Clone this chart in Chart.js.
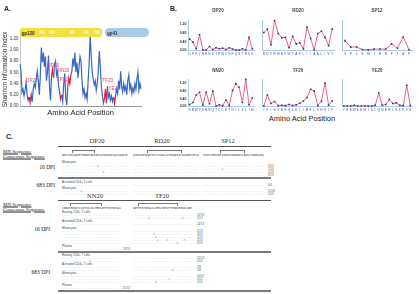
<!DOCTYPE html>
<html>
<head>
<meta charset="utf-8">
<script src="https://cdn.jsdelivr.net/npm/chart.js@4.4.0/dist/chart.umd.min.js"></script>
<style>
html, body { margin: 0; padding: 0; background: #fff; }
#fig { position: relative; width: 419px; height: 294px; overflow: hidden; font-family: 'Liberation Sans', Arial, sans-serif; }
#fig canvas { position: absolute; }
.t { position: absolute; white-space: pre; line-height: 1; }
.big { font: bold 7px 'Liberation Sans', Arial, sans-serif; color: #222; }
.axt { font-size: 7.5px; color: #222; }
.gp { font: bold 4.5px 'Liberation Sans', Arial, sans-serif; color: #333; }
.vr { font-size: 3.2px; color: #fff; background: #f7ec8c; padding: 0.4px 1px; }
.hd { font-family: 'Liberation Serif', serif; font-size: 6.5px; color: #333; }
.mn { font-family: 'Liberation Serif', serif; font-size: 5px; color: #222; text-decoration: underline; }
.dpi { font-family: 'Liberation Serif', serif; font-size: 5.5px; color: #222; }
.lab { font-size: 3px; color: #444; }
.seq { font-family: 'DejaVu Sans Mono', monospace; font-size: 2.8px; color: #8c8c8c; }
.cons { font-family: 'DejaVu Sans Mono', monospace; font-size: 2.8px; color: #333; }
.cnt { font-size: 2.8px; color: #555; }
.hl { position: absolute; }
.br { position: absolute; border: 0.5px solid #777; border-bottom: none; height: 1.5px; }
</style>
</head>
<body>
<div id="fig">
  <canvas id="cA" width="144" height="98" style="left:0;top:20px"></canvas>
  <canvas id="b1" width="80" height="52" style="left:178px;top:6px"></canvas>
  <canvas id="b2" width="80" height="52" style="left:258px;top:6px"></canvas>
  <canvas id="b3" width="78" height="52" style="left:338px;top:6px"></canvas>
  <canvas id="b4" width="80" height="48" style="left:178px;top:66px"></canvas>
  <canvas id="b5" width="80" height="48" style="left:258px;top:66px"></canvas>
  <canvas id="b6" width="78" height="48" style="left:338px;top:66px"></canvas>
</div>
<script>
// ---- panel A: Shannon entropy along env ----
const shannonIndex = [
  0.75, 0.62, 0.25, 0.30, 0.18, 0.28, 0.42, 0.20, 0.10, 0.16,
  0.06, 0.20, 0.08, 0.30, 0.40, 0.33, 0.48, 0.62, 0.45, 0.20,
  0.55, 1.04, 0.78, 0.95, 0.70, 0.88, 0.45, 0.60, 0.90, 0.35,
  0.10, 0.52, 0.65, 0.50, 0.75, 0.80, 0.55, 0.62, 0.35, 0.25,
  0.12, 0.20, 0.08, 0.40, 0.58, 0.15, 0.02, 0.35, 0.50, 0.40,
  0.55, 0.62, 0.85, 0.70, 0.95, 0.60, 0.78, 0.50, 0.68, 0.88,
  0.80, 0.45, 0.22, 0.30, 0.15, 0.22, 0.12, 0.45, 0.75, 1.27,
  0.90, 0.60, 0.48, 0.38, 0.45, 0.28, 0.40, 0.62, 0.98, 0.70,
  0.35, 0.20, 0.05, 0.12, 0.30, 0.05, 0.35, 0.15, 0.22, 0.10,
  0.18, 0.08, 0.16, 0.04, 0.20, 0.30, 0.22, 0.45, 0.30, 0.62,
  0.35, 0.25, 0.40, 0.28, 0.35, 0.20, 0.45, 0.55, 0.30, 0.38,
  0.22, 0.32, 0.25, 0.40, 0.30, 0.48, 0.60, 0.28, 0.40, 0.30
];
const shannonTicks = [0, 0.2, 0.4, 0.6, 0.8, 1.0, 1.2];
const peptideNames = ['DP20', 'RD20', 'SP12', 'NN20', 'TF20', 'YE20'];
const peptideStart = [9, 31, 39, 47, 83, 92];
const peptideEnd = [12, 33, 41, 50, 86, 94];
// where each peptide name is written (position index, entropy level)
const labelIndex = [6, 27, 36, 37, 81, 87];
const labelLevel = [0.45, 0.72, 0.47, 0.63, 0.45, 0.30];

// ---- panel B: per-residue entropy of each peptide ----
const peptideTicks = [0, 0.2, 0.4, 0.6, 0.8, 1.0, 1.2, 1.4];
const dp20Residues = 'DPEYNHNDTRWCNPQGTRDK'.split('');
const dp20Entropy = [0.52, 0.38, 0.08, 0.72, 0.02, 0.02, 0.18, 0.04, 0.12, 0.08, 0.10, 0.04, 0.12, 0.06, 0.02, 0.02, 0.08, 0.02, 0.60, 0.06];
const rd20Residues = 'RDYRMNKWYAFLIIAALIVT'.split('');
const rd20Entropy = [0.82, 0.98, 0.25, 1.38, 0.78, 0.58, 0.60, 0.12, 0.65, 0.30, 0.35, 0.06, 1.08, 0.55, 0.02, 0.78, 0.88, 0.60, 0.22, 0.98];
const sp12Residues = 'SPLEMIRNFTAP'.split('');
const sp12Entropy = [0.45, 0.15, 0.16, 0.04, 0.03, 0.06, 0.06, 0.06, 0.30, 0.10, 0.62, 0.02];
const nn20Residues = 'NNWYSRNQTCCKTNILSLIM'.split('');
const nn20Entropy = [0.10, 0.20, 0.58, 0.72, 0.06, 0.72, 0.14, 0.78, 0.02, 0.08, 0.04, 0.32, 0.04, 0.82, 1.15, 0.98, 0.20, 1.38, 0.08, 0.44];
const tf20Residues = 'TFISYNEQLKLIMELSHSIF'.split('');
const tf20Entropy = [0.02, 0.58, 0.15, 0.25, 0.04, 0.06, 0.04, 0.10, 0.05, 0.08, 0.16, 0.28, 0.45, 0.88, 0.78, 0.04, 0.26, 1.20, 0.06, 0.28];
const ye20Residues = 'YEEWKEMIDLQNERLSKFVG'.split('');
const ye20Entropy = [0.02, 0.02, 0.02, 0.06, 0.02, 0.02, 0.02, 0.02, 0.02, 0.06, 0.68, 0.06, 0.10, 0.35, 0.15, 0.18, 0.06, 0.04, 1.08, 0.04];

const SANS = "'Liberation Sans', Arial, sans-serif";
const BLUE = '#3568c8';
const RED = '#e8183c';
Chart.defaults.font.family = SANS;

function peptideAt(i) {
  for (let k = 0; k < peptideStart.length; k++) {
    if (i >= peptideStart[k] && i <= peptideEnd[k]) return k;
  }
  return -1;
}

const peptideLabels = {
  id: 'peptideLabels',
  afterDatasetsDraw(chart) {
    const {ctx, scales: {x, y}} = chart;
    ctx.save();
    ctx.fillStyle = '#e33d64';
    ctx.font = '4.6px ' + SANS;
    ctx.textBaseline = 'middle';
    peptideNames.forEach((name, k) => {
      ctx.fillText(name, x.getPixelForValue(labelIndex[k]), y.getPixelForValue(labelLevel[k]));
    });
    ctx.restore();
  }
};

new Chart(document.getElementById('cA'), {
  type: 'line',
  data: {
    labels: shannonIndex.map((_, i) => i + 1),
    datasets: [{
      data: shannonIndex,
      borderColor: BLUE,
      borderWidth: 1.2,
      pointRadius: 0,
      tension: 0,
      segment: {
        borderColor: c => {
          const k = peptideAt(c.p0DataIndex);
          return (k >= 0 && k === peptideAt(c.p1DataIndex)) ? RED : undefined;
        }
      }
    }]
  },
  options: {
    responsive: false,
    animation: false,
    events: [],
    layout: { padding: { top: 13, right: 3, bottom: 1, left: 1 } },
    plugins: { legend: { display: false }, tooltip: { enabled: false } },
    scales: {
      x: {
        offset: false,
        grid: { display: false, drawTicks: false },
        border: { color: '#9a9a9a' },
        ticks: { display: false },
        title: { display: true, text: 'Amino Acid Position', color: '#222', font: { size: 7.5 }, padding: { top: 2, bottom: 0 } }
      },
      y: {
        min: 0, max: 1.3,
        afterBuildTicks: s => { s.ticks = shannonTicks.map(v => ({ value: v })); },
        afterFit: s => { s.width = 19; },
        grid: { display: false, drawTicks: false },
        border: { color: '#c8c8c8' },
        ticks: { color: '#333', padding: 1.5, font: { size: 4.5 }, callback: v => v.toFixed(2) },
        title: { display: true, text: 'Shannon Information Index', color: '#222', font: { size: 6.3 }, padding: { top: 0, bottom: 1 } }
      }
    }
  },
  plugins: [peptideLabels]
});

function peptideChart(id, title, residues, entropy, withAxis, titlePad) {
  return new Chart(document.getElementById(id), {
    type: 'line',
    data: {
      labels: residues,
      datasets: [{
        data: entropy,
        borderColor: '#f0608a',
        borderWidth: 1,
        pointStyle: 'rect',
        pointRadius: 1.1,
        pointBackgroundColor: '#26338a',
        pointBorderWidth: 0,
        tension: 0,
        clip: 3
      }]
    },
    options: {
      responsive: false,
      animation: false,
      events: [],
      layout: { padding: 0 },
      plugins: {
        legend: { display: false },
        tooltip: { enabled: false },
        title: { display: true, text: title, color: '#444', font: { size: 4.5, weight: 'bold' }, padding: titlePad }
      },
      scales: {
        x: {
          offset: true,
          grid: { display: false, drawTicks: false },
          border: { color: '#a9c9ea', dash: [1.5, 1] },
          ticks: { autoSkip: false, maxRotation: 0, minRotation: 0, padding: 2, color: '#3550a8', font: { size: 3 } }
        },
        y: {
          min: 0, max: 1.4,
          afterBuildTicks: s => { s.ticks = peptideTicks.map(v => ({ value: v })); },
          afterFit: s => { s.width = withAxis ? 10 : 0; },
          grid: { display: false, drawTicks: false },
          border: { color: '#a9c9ea' },
          ticks: { display: withAxis, padding: 1.5, color: '#333', font: { size: 3.5, weight: 'bold' }, callback: v => v.toFixed(2) }
        }
      }
    }
  });
}

const padTop = { top: 2.3, bottom: 6.3 };
const padBottom = { top: 2.3, bottom: 5.3 };
peptideChart('b1', 'DP20', dp20Residues, dp20Entropy, true, padTop);
peptideChart('b2', 'RD20', rd20Residues, rd20Entropy, false, padTop);
peptideChart('b3', 'SP12', sp12Residues, sp12Entropy, false, padTop);
peptideChart('b4', 'NN20', nn20Residues, nn20Entropy, true, padBottom);
peptideChart('b5', 'TF20', tf20Residues, tf20Entropy, false, padBottom);
peptideChart('b6', 'YE20', ye20Residues, ye20Entropy, false, padBottom);

// ---- text, bars and the alignment of panel C ----
const fig = document.getElementById('fig');
function put(x, y, text, cls, align) {
  const d = document.createElement('div');
  d.className = 't ' + cls;
  d.textContent = text;
  d.style.left = x + 'px';
  d.style.top = y + 'px';
  const tx = align === 'c' ? '-50%' : align === 'r' ? '-100%' : '0';
  d.style.transform = 'translate(' + tx + ',-50%)';
  fig.appendChild(d);
  return d;
}
function hline(x0, x1, y, th, color) {
  const d = document.createElement('div');
  d.className = 'hl';
  Object.assign(d.style, { left: x0 + 'px', top: (y - th / 2) + 'px', width: (x1 - x0) + 'px', height: th + 'px', background: color });
  fig.appendChild(d);
}
function bracket(x0, x1, y) {
  const d = document.createElement('div');
  d.className = 'br';
  Object.assign(d.style, { left: x0 + 'px', top: y + 'px', width: (x1 - x0) + 'px' });
  fig.appendChild(d);
}
const CH = 2.8 * 0.602;
function seqRow(y, segs, marks, count, countX, cls, letters) {
  segs.forEach(([x0, x1], s) => {
    const n = Math.floor((x1 - x0) / CH);
    let chars = letters ? letters[s].slice(0, n).padEnd(n, '.').split('') : '.'.repeat(n).split('');
    marks.forEach(([mx, ch]) => { if (mx >= x0 && mx < x1) chars[Math.round((mx - x0) / CH)] = ch; });
    put(x0, y, chars.join(''), cls || 'seq');
  });
  if (count) put(countX, y, count, 'cnt');
}

// gp120 / gp41 domain bar
const gp120 = document.createElement('div');
Object.assign(gp120.style, { position: 'absolute', left: '20px', top: '28px', width: '82px', height: '9px', background: '#f3e03b', borderRadius: '3px' });
fig.appendChild(gp120);
const gp41 = document.createElement('div');
Object.assign(gp41.style, { position: 'absolute', left: '105px', top: '28px', width: '44px', height: '9px', background: '#a8cbe8', borderRadius: '4.5px' });
fig.appendChild(gp41);
put(21.5, 32.8, 'gp120', 'gp');
[['V1', 42], ['V2', 52], ['V3', 72], ['V4', 86], ['V5', 97]].forEach(([v, x]) => put(x, 32.5, v, 'vr', 'c'));
put(107, 32.8, 'gp41', 'gp');

put(4, 8, 'A.', 'big');
put(170, 8, 'B.', 'big');
put(302, 118.5, 'Amino Acid Position', 'axt', 'c');

// panel C, first block
const SEG1 = [[62, 129], [133, 199], [203, 265]];
const SEG2 = [[62, 122], [133, 193]];
const cons1 = ['NRTLEKIQDPEYNHNDTRWCNPQGTRDKAISQLVQNAYEKWTQ', 'QYRDIRFNKWYAFLIIAALIVTRQKEGSLSKANNTTEIQYLLS', 'GKSPLEMIRNFTAPKEVNQEWRLLNDSCYSNMGIWQE'];
const cons2 = ['LNNWYSRNQTCCKTNILSLIMMIGMTFISYNEQLKLIME', 'QRTFISYNEQLKLIMELSHSIFYEEWKEMIDLQNERLS'];

put(6, 136, 'C.', 'big');
put(97, 141, 'DP20', 'hd', 'c');
put(162, 141, 'RD20', 'hd', 'c');
put(228, 141, 'SP12', 'hd', 'c');
hline(58, 271, 146, 0.8, '#555');
put(3, 150.5, 'MN Sequence', 'mn');
put(3, 155.5, 'Consensus Sequence', 'mn');
bracket(72, 93, 150); bracket(147, 180, 150); bracket(220, 243, 150);
seqRow(155, SEG1, [], null, 0, 'cons', cons1);
put(62, 162, 'Monocytes', 'lab');
seqRow(165.5, SEG1, [[97, 'K']], '2/13', 268);
seqRow(168.5, SEG1, [[221, 'A']], '1/13', 268);
seqRow(171.5, SEG1, [[103, 'E']], '1/13', 268);
seqRow(174.5, SEG1, [], '9/13', 268);
put(55, 168, '16 DPI', 'dpi', 'r');
hline(58, 271, 178, 1.4, '#7a7a7a');
put(62, 181.5, 'Activated CD4+ T cells', 'lab');
seqRow(184.5, SEG1, [], '4/4', 268);
put(62, 187.5, 'Monocytes', 'lab');
seqRow(190.5, SEG1, [[80, 'A']], '11/13', 268);
seqRow(193.5, SEG1, [], '2/13', 268);
put(55, 186, '683 DPI', 'dpi', 'r');

// panel C, second block
put(95, 196, 'NN20', 'hd', 'c');
put(162, 196, 'TF20', 'hd', 'c');
hline(58, 271, 200, 0.8, '#555');
put(3, 203.5, 'MN Sequence', 'mn');
put(3, 208.5, 'Consensus Sequence', 'mn');
bracket(70, 100, 203); bracket(138, 176, 203);
seqRow(208, SEG2, [], null, 0, 'cons', cons2);
put(62, 211.5, 'Resting CD4+ T cells', 'lab');
seqRow(214.5, SEG2, [], '12/13', 197);
seqRow(217.5, SEG2, [[149, 'K'], [182, 'R']], '1/13', 197);
put(62, 221, 'Activated CD4+ T cells', 'lab');
seqRow(224, SEG2, [], '13/13', 197);
put(62, 227.5, 'Monocytes', 'lab');
seqRow(230.5, SEG2, [], '5/13', 197);
seqRow(233.5, SEG2, [[153, 'S']], '3/13', 197);
seqRow(236.5, SEG2, [[155, 'N']], '1/13', 197);
seqRow(239.5, SEG2, [[157, 'G'], [167, 'K'], [183, 'E']], '2/13', 197);
seqRow(242.5, SEG2, [[177, 'R']], '2/13', 197);
put(50, 230, '16 DPI', 'dpi', 'r');
put(62, 246, 'Plasma', 'lab');
seqRow(248.5, [[62, 122]], [], '13/13', 123);
hline(58, 271, 252, 1.4, '#7a7a7a');
put(62, 254.5, 'Resting CD4+ T cells', 'lab');
seqRow(257.5, SEG2, [], '12/13', 197);
seqRow(260.5, SEG2, [[89, 'E']], '1/13', 197);
put(62, 263.5, 'Activated CD4+ T cells', 'lab');
seqRow(266.5, SEG2, [], '7/8', 197);
seqRow(269.5, SEG2, [[171, 'N']], '1/8', 197);
put(62, 272.5, 'Monocytes', 'lab');
seqRow(275.5, SEG2, [], '10/12', 197);
seqRow(278.5, SEG2, [[168, 'S']], '1/12', 197);
seqRow(281.5, SEG2, [[155, 'D']], '1/12', 197);
put(50, 273, '683 DPI', 'dpi', 'r');
put(62, 284.5, 'Plasma', 'lab');
seqRow(287.5, [[62, 122]], [], '11/12', 123);
hline(58, 271, 291, 1.4, '#7a7a7a');
</script>
</body>
</html>
